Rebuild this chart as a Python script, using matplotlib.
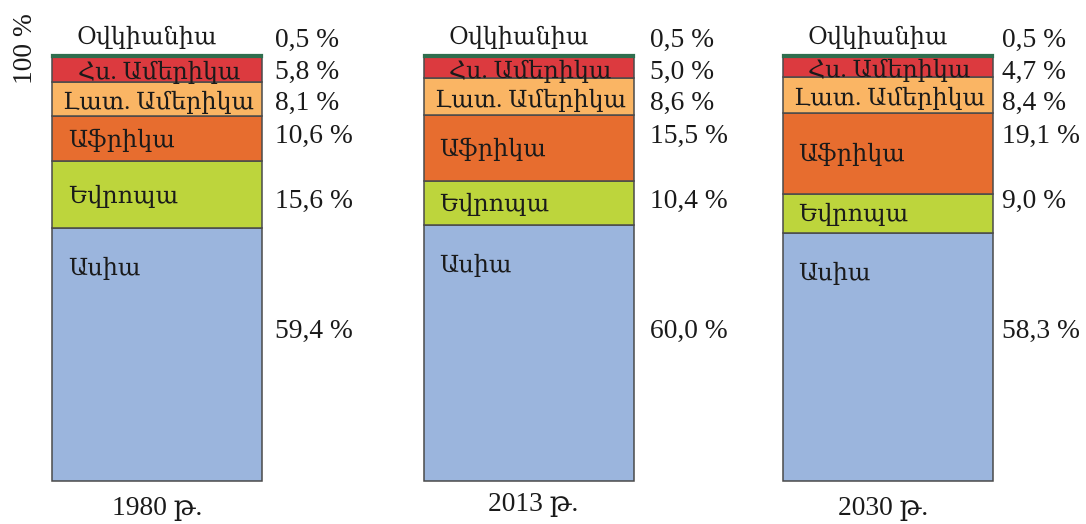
import matplotlib
matplotlib.use("Agg")
import matplotlib.pyplot as plt

# Population shares by region (percent), bottom to top
years = ["1980 թ.", "2013 թ.", "2030 թ."]
regions = ["Ասիա", "Եվրոպա", "Աֆրիկա", "Լատ. Ամերիկա", "Հս. Ամերիկա", "Օվկիանիա"]
asia = [59.4, 60.0, 58.3]
europe = [15.6, 10.4, 9.0]
africa = [10.6, 15.5, 19.1]
latam = [8.1, 8.6, 8.4]
namerica = [5.8, 5.0, 4.7]
oceania = [0.5, 0.5, 0.5]
pct_labels = [
    ["59,4 %", "15,6 %", "10,6 %", "8,1 %", "5,8 %", "0,5 %"],
    ["60,0 %", "10,4 %", "15,5 %", "8,6 %", "5,0 %", "0,5 %"],
    ["58,3 %", "9,0 %", "19,1 %", "8,4 %", "4,7 %", "0,5 %"],
]

series = [asia, europe, africa, latam, namerica, oceania]
colors = ["#9bb5dd", "#bdd53c", "#e76d2f", "#fab564", "#dc3a3f", "#2f6e4e"]
edges = ["#4a4a4a"] * 5 + ["#2f6e4e"]

FONT = ["Liberation Serif", "DejaVu Serif"]
plt.rcParams["font.family"] = FONT

fig = plt.figure(figsize=(10.86, 5.24), dpi=100)
ax = fig.add_axes([0, 0, 1, 1])
ax.set_xlim(0, 1086)
ax.set_ylim(-10.09, 112.9)
ax.axis("off")

bar_x = [157, 528.5, 887.5]
bar_w = 210
# fixed rows for the percentage column (same for every bar)
pct_rows = [35.2, 65.7, 81.0, 88.7, 96.0, 103.5]
pct_dx = [13, 17, 10]
year_dx = [0, 5, -4]
year_y = [-6.4, -5.6, -6.4]

NAME_FS = 17.2
NUM_FS = 19.8
INK = "#1a1a1a"

for i, xc in enumerate(bar_x):
    bottom = 0.0
    left = xc - bar_w / 2
    for k, vals in enumerate(series):
        v = vals[i]
        ax.bar(xc, v, width=bar_w, bottom=bottom, color=colors[k],
               edgecolor=edges[k], linewidth=1.1 if k < 5 else 1.6, zorder=2)
        top = bottom + v
        name = regions[k]
        if k == 0:
            ax.text(left + 16, top - 9.5, name, ha="left", va="center",
                    fontsize=NAME_FS, color=INK, zorder=3)
        elif k in (1, 2):
            ax.text(left + 16, (bottom + top) / 2 - 0.3, name, ha="left",
                    va="center", fontsize=NAME_FS, color=INK, zorder=3)
        elif k in (3, 4):
            ax.text(xc + 2, (bottom + top) / 2 - 0.8, name, ha="center",
                    va="center", fontsize=NAME_FS, color=INK, zorder=3)
        else:
            ax.text(xc - 10, 104.0, name, ha="center", va="center",
                    fontsize=NAME_FS, color=INK, zorder=3)
        ax.text(left + bar_w + pct_dx[i], pct_rows[k], pct_labels[i][k],
                ha="left", va="center", fontsize=NUM_FS, color=INK)
        bottom = top
    ax.text(xc + year_dx[i], year_y[i], years[i],
            ha="center", va="center", fontsize=NUM_FS, color=INK)

ax.text(25, 101.5, "100 %", rotation=90, ha="center", va="center",
        fontsize=NUM_FS, color=INK)

fig.savefig("out.png", dpi=100)
